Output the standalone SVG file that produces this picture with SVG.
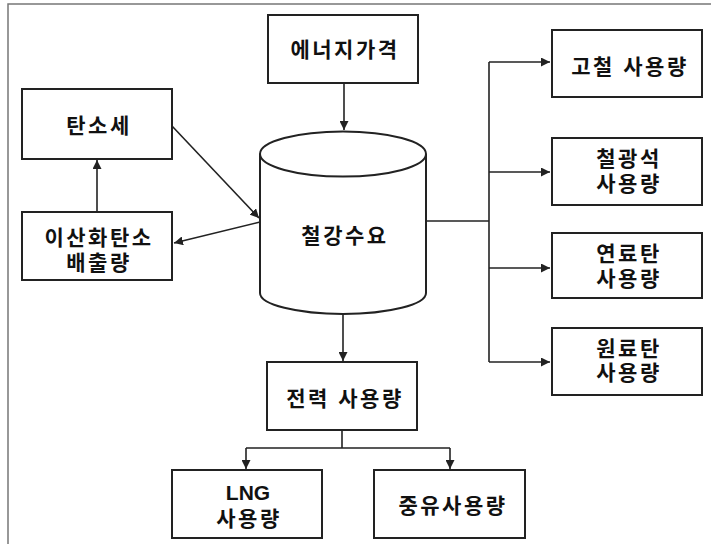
<svg xmlns="http://www.w3.org/2000/svg" width="711" height="544" viewBox="0 0 711 544">
<style>
.box{fill:#fff;stroke:#222;stroke-width:2}
.t{font-family:"Liberation Sans","Noto Sans CJK KR",sans-serif;font-weight:bold;font-size:21px;fill:#111;text-anchor:middle;dominant-baseline:central;letter-spacing:2.5px}
.c{fill:none;stroke:#222;stroke-width:1.6}
</style>
<defs>
<marker id="ah" viewBox="0 0 10 10" refX="10" refY="5" markerWidth="9" markerHeight="9" markerUnits="userSpaceOnUse" orient="auto">
<path d="M0,0 L10,5 L0,10 z" fill="#222"/>
</marker>
</defs>
<rect width="711" height="544" fill="#fff"/>
<path d="M8,544 V4 H711" fill="none" stroke="#777" stroke-width="1.5"/>
<g id="connectors">
<path class="c" d="M344,83 V130" marker-end="url(#ah)"/>
<path class="c" d="M97,212 V160" marker-end="url(#ah)"/>
<path class="c" d="M172,126 L259,218" marker-end="url(#ah)"/>
<path class="c" d="M260,222 L174,243" marker-end="url(#ah)"/>
<path class="c" d="M426,221 H489"/>
<path class="c" d="M489,62 V362"/>
<path class="c" d="M489,62 H550" marker-end="url(#ah)"/>
<path class="c" d="M489,172 H550" marker-end="url(#ah)"/>
<path class="c" d="M489,268 H550" marker-end="url(#ah)"/>
<path class="c" d="M489,362 H550" marker-end="url(#ah)"/>
<path class="c" d="M343,314 V361" marker-end="url(#ah)"/>
<path class="c" d="M342,430 V448 M246,448 H450"/>
<path class="c" d="M246,448 V469" marker-end="url(#ah)"/>
<path class="c" d="M450,448 V469" marker-end="url(#ah)"/>
</g>
<g id="energy-price"><rect class="box" x="268" y="15" width="150" height="68"/><text class="t" x="345" y="49">에너지가격</text></g>
<g id="carbon-tax"><rect class="box" x="22" y="89" width="150" height="70"/><text class="t" x="99" y="125">탄소세</text></g>
<g id="co2"><rect class="box" x="22" y="212" width="150" height="68"/><text class="t" x="99" y="237">이산화탄소<tspan x="99" dy="25">배출량</tspan></text></g>
<g id="steel-demand">
<path d="M260,154 V293 A83,21 0 0 0 426,293 V154" fill="#fff" stroke="#222" stroke-width="2"/>
<ellipse cx="343" cy="154" rx="83" ry="22.5" fill="#fff" stroke="#222" stroke-width="2"/>
<text class="t" x="345" y="235">철강수요</text>
</g>
<g id="scrap"><rect class="box" x="552" y="30" width="150" height="67"/><text class="t" x="630" y="66">고철 사용량</text></g>
<g id="iron-ore"><rect class="box" x="552" y="138" width="150" height="67"/><text class="t" x="629" y="158">철광석<tspan x="629" dy="25">사용량</tspan></text></g>
<g id="fuel-coal"><rect class="box" x="552" y="233" width="150" height="65"/><text class="t" x="629" y="253">연료탄<tspan x="629" dy="25">사용량</tspan></text></g>
<g id="coking-coal"><rect class="box" x="552" y="328" width="150" height="67"/><text class="t" x="629" y="348">원료탄<tspan x="629" dy="24">사용량</tspan></text></g>
<g id="electricity"><rect class="box" x="267" y="362" width="150" height="68"/><text class="t" x="345" y="398">전력 사용량</text></g>
<g id="lng"><rect class="box" x="172" y="470" width="150" height="68"/><text class="t" x="248" y="492" style="letter-spacing:0">LNG<tspan x="249" dy="26" style="letter-spacing:2.5px">사용량</tspan></text></g>
<g id="heavy-oil"><rect class="box" x="374" y="470" width="151" height="68"/><text class="t" x="453" y="505">중유사용량</text></g>
</svg>
